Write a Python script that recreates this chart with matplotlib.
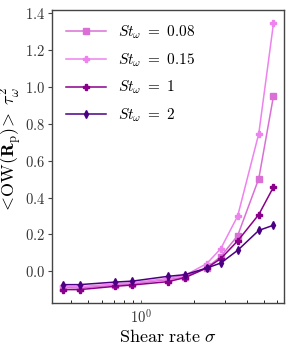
import numpy as np
import matplotlib
matplotlib.use("Agg")
import matplotlib.pyplot as plt
from matplotlib.ticker import FixedLocator, FuncFormatter, NullFormatter

plt.rcParams["font.family"] = "serif"
plt.rcParams["font.serif"] = ["cmr10"]
plt.rcParams["mathtext.fontset"] = "cm"
plt.rcParams["axes.formatter.use_mathtext"] = True

# shear rate values (log axis)
sigma = [0.356, 0.445, 0.712, 0.89, 1.42, 1.78, 2.37, 2.85, 3.56, 4.70, 5.70]

# <OW(R_p)> tau_w^2 for each Stokes number
ow_st008 = [-0.088, -0.090, -0.075, -0.068, -0.045, -0.030, 0.020, 0.080, 0.194, 0.503, 0.950]
ow_st015 = [-0.082, -0.083, -0.068, -0.062, -0.038, -0.022, 0.042, 0.123, 0.300, 0.747, 1.344]
ow_st1 = [-0.099, -0.099, -0.081, -0.074, -0.056, -0.034, 0.018, 0.069, 0.165, 0.308, 0.457]
ow_st2 = [-0.072, -0.072, -0.058, -0.053, -0.027, -0.018, 0.018, 0.045, 0.114, 0.222, 0.250]

labels = [r"$St_\omega\ =\ 0.08$", r"$St_\omega\ =\ 0.15$", r"$St_\omega\ =\ 1$", r"$St_\omega\ =\ 2$"]
colors = ["orchid", "violet", "darkmagenta", "indigo"]
markers = ["s", "P", "P", "d"]

fig = plt.figure(figsize=(2.91, 3.47), dpi=100)
ax = fig.add_axes([0.179, 0.127, 0.797, 0.844])

for y, lab, c, m in zip([ow_st008, ow_st015, ow_st1, ow_st2], labels, colors, markers):
    ax.plot(sigma, y, color=c, marker=m, markersize=3.8, linewidth=1.1, label=lab)

ax.set_xscale("log")
ax.set_yticks(np.arange(0.0, 1.41, 0.2))
ax.yaxis.set_major_formatter(FuncFormatter(lambda v, p: r"$%.1f$" % v))
ax.xaxis.set_major_locator(FixedLocator([1.0]))
ax.xaxis.set_major_formatter(FuncFormatter(lambda v, p: r"$10^0$"))
ax.xaxis.set_minor_formatter(NullFormatter())

ax.tick_params(axis="both", labelsize=10.5, colors="#444444", labelcolor="#333333")
ax.tick_params(axis="x", which="both", direction="in", length=2.5, width=0.6)
ax.tick_params(axis="y", direction="out", length=3, width=0.8, pad=2)
for s in ax.spines.values():
    s.set_color("#444444")
    s.set_linewidth(1.0)

ax.set_xlabel(r"$\mathrm{Shear\ rate}\ \sigma$", fontsize=13, labelpad=2)
ax.set_ylabel(r"$<\!\mathrm{OW}(\mathbf{R}_\mathrm{p})\!>\ \tau_\omega^2$", fontsize=13)
ax.yaxis.set_label_coords(-0.118, 0.52)

ax.legend(loc="upper left", frameon=False, fontsize=11, handlelength=2.6,
          handletextpad=0.8, labelspacing=0.65, borderaxespad=0.5)

fig.savefig("out.png", dpi=100)
